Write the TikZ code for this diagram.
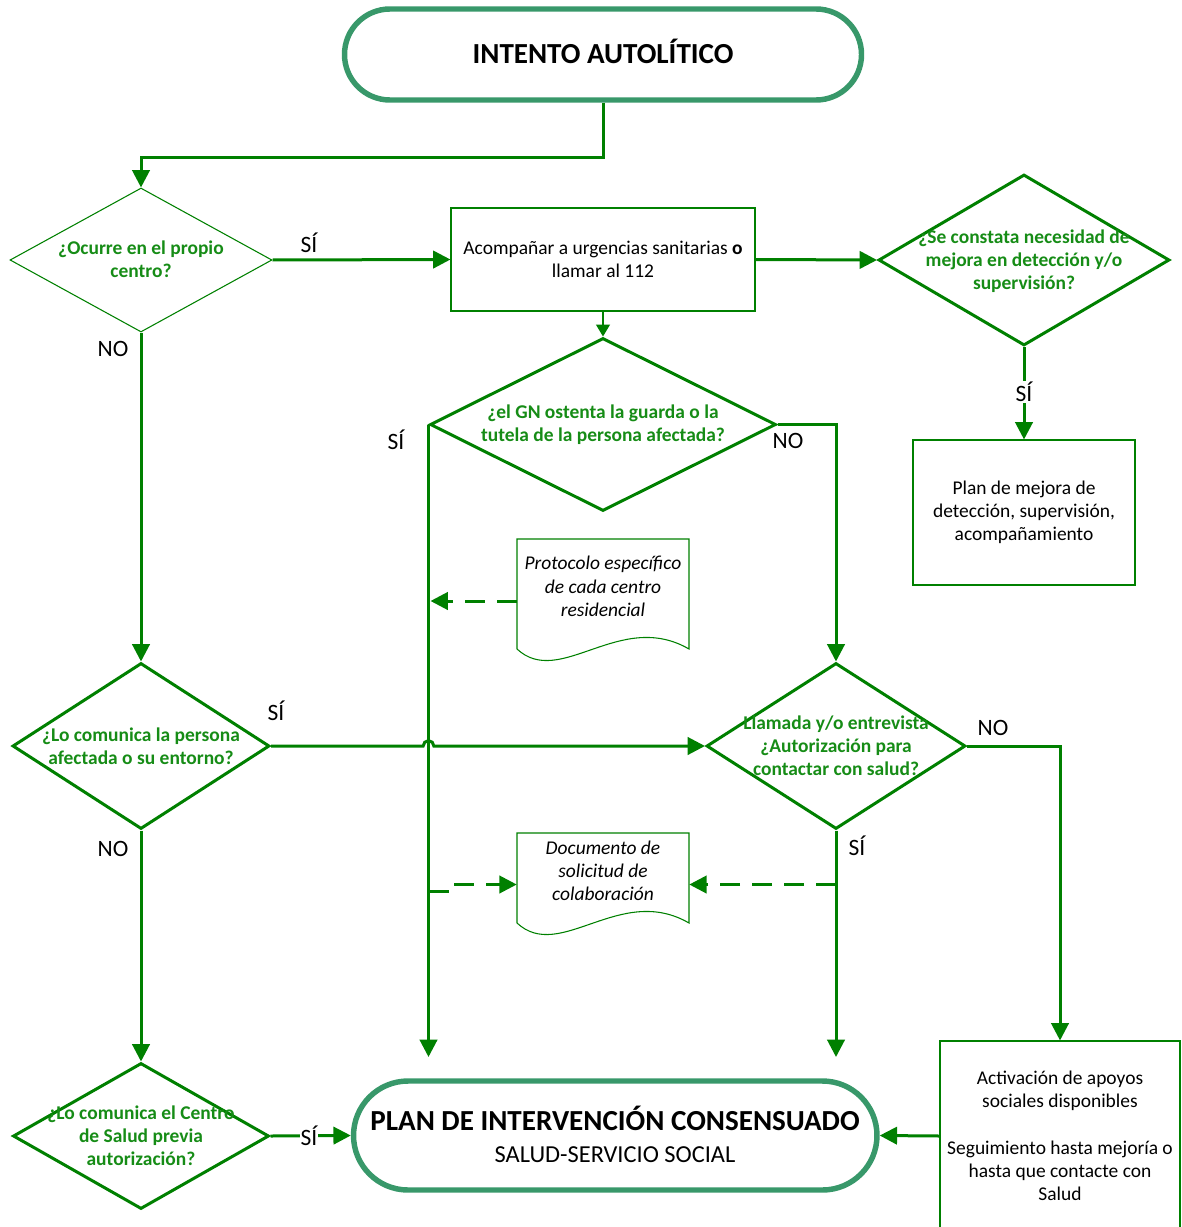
\documentclass[tikz,border=0pt]{standalone}
\usepackage{fontspec}
\setmainfont{Carlito}
\usetikzlibrary{shapes.geometric,arrows.meta}
\definecolor{lg}{RGB}{0,128,0}
\definecolor{tg}{RGB}{22,140,22}
\definecolor{term}{RGB}{56,152,106}
\newcommand{\bodyfont}{\fontsize{14.6}{17.4}\selectfont}
\newcommand{\lblfont}{\fontsize{17.6}{20}\selectfont}
\tikzset{
 conn/.style={draw=lg, line width=2.25pt, -{Triangle[length=13pt,width=13pt]}},
 dashconn/.style={conn, dash pattern=on 15pt off 9pt},
 decision/.style={diamond, draw=lg, line width=2.25pt, inner sep=0pt, aspect=1},
 thindecision/.style={decision, line width=0.8pt},
 qtext/.style={text=tg, font=\bodyfont\bfseries, align=center, inner sep=0pt},
 procbox/.style={rectangle, draw=lg, line width=0.8pt, align=center, font=\bodyfont, inner sep=0pt},
 terminal/.style={rectangle, draw=term, line width=4.1pt, align=center, inner sep=0pt},
 lbl/.style={font=\lblfont, inner sep=1pt},
 docbox/.style={rectangle, inner sep=0pt, minimum width=129pt},
 docline/.style={draw=lg, line width=0.8pt},
 doctext/.style={font=\bodyfont\itshape, align=center, inner sep=0pt},
}
\begin{document}
\begin{tikzpicture}[x=0.75pt,y=-0.75pt]
\useasboundingbox (0,0) rectangle (1181,1227);

% terminals
\node[terminal, minimum width=387.75pt, minimum height=68.25pt, rounded corners=34.1pt,
  text height=14pt, text depth=0pt,
  font=\fontsize{21.8}{24}\selectfont\bfseries] (start) at (603,54.5) {INTENTO AUTOLÍTICO};
\node[terminal, minimum width=392.6pt, minimum height=81.75pt, rounded corners=40.9pt] (plan) at (615.25,1135.5) {};
\node[align=center, inner sep=0pt, font=\fontsize{21.8}{24}\selectfont] (plant) at (615,1134)
  {\textbf{PLAN DE INTERVENCIÓN CONSENSUADO}\\{\fontsize{18.3}{22}\selectfont SALUD-SERVICIO SOCIAL}};

% decisions
\node[thindecision, minimum width=196.5pt, minimum height=108pt] (d1) at (141,260) {};
\node[qtext] (d1t) at (141,259) {¿Ocurre en el propio\\centro?};
\node[decision, minimum width=259.5pt, minimum height=129.75pt] (d2) at (603,424.5) {};
\node[qtext] (d2t) at (603,424.5) {¿el GN ostenta la guarda o la\\tutela de la persona afectada?};
\node[decision, minimum width=218.25pt, minimum height=128.25pt] (d3) at (1024,260) {};
\node[qtext] (d3t) at (1024,261) {¿Se constata necesidad de\\mejora en detección y/o\\supervisión?};
\node[decision, minimum width=192.75pt, minimum height=124.5pt] (d4) at (141,746) {};
\node[qtext] (d4t) at (141,746) {¿Lo comunica la persona\\afectada o su entorno?};
\node[decision, minimum width=194.25pt, minimum height=124.5pt] (d5) at (836,746) {};
\node[qtext] (d5t) at (836,745.5) {Llamada y/o entrevista\\¿Autorización para\\contactar con salud?};
\node[decision, minimum width=192pt, minimum height=109.5pt] (d6) at (141,1136) {};
\node[qtext] (d6t) at (141,1135.5) {¿Lo comunica el Centro\\de Salud previa\\autorización?};

% process boxes
\node[procbox, minimum width=228pt, minimum height=77.25pt] (b1) at (603,259.5)
  {Acompañar a urgencias sanitarias \textbf{o}\\llamar al 112};
\node[procbox, minimum width=166.5pt, minimum height=108.75pt] (b2) at (1024,512.5)
  {Plan de mejora de\\detección, supervisión,\\acompañamiento};
\node[procbox, minimum width=180pt, minimum height=142.5pt] (b3) at (1060,1136)
  {Activación de apoyos\\sociales disponibles\\[17.4pt]Seguimiento hasta mejoría o\\hasta que contacte con\\Salud};

% documents
\node[docbox, minimum height=93pt] (doc1) at (603,601) {};
\draw[docline] (517,539) -- (689,539) -- (689,649) .. controls (620,609) and (560,689) .. (517,649) -- cycle;
\node[doctext] (doc1t) at (603,586.5) {Protocolo específico\\de cada centro\\residencial};
\node[docbox, minimum height=77.25pt] (doc2) at (603,884.5) {};
\draw[docline] (517,833) -- (689,833) -- (689,923) .. controls (620,883) and (560,963) .. (517,923) -- cycle;
\node[doctext] (doc2t) at (603,870.5) {Documento de\\solicitud de\\colaboración};

% free ends
\coordinate (e1) at (431,1057);
\coordinate (e2) at (836,1057);
\coordinate (e3) at (455,891);

% connectors
\draw[conn] (start.south) -- (603,158) -| (d1.north);
\draw[conn] (d1.east) -- (b1.west);
\draw[conn] (b1.east) -- (d3.west);
\draw[conn] (d3.south) -- (b2.north);
\draw[draw=lg, line width=1.1pt, -{Triangle[length=9pt,width=10.5pt]}] (b1.south) -- (d2.north);
\draw[conn] (d2.west) -- (d2.west |- e1);
\draw[conn] (d2.east) -| (d5.north);
\draw[dashconn] (doc1.west) -- ([xshift=1.5pt]d2.west |- doc1.west);
\draw[conn] (d1.south) -- (d4.north);
\draw[conn] (d4.east) -- ([xshift=-4pt]d2.west |- d4.east) arc[start angle=180,end angle=0,radius=4pt] -- (d5.west);
\draw[conn] (d5.east) -| (b3.north);
\draw[conn] (d5.south) -- (e2);
\draw[dashconn] (d5.south |- doc2.east) -- (doc2.east);
\draw[dashconn] (d2.west |- e3) -- (e3) |- (doc2.west);
\draw[conn] (d4.south) -- (d6.north);
\draw[conn] (d6.east) -- (plan.west);
\draw[conn] (b3.west) -- (plan.east);

% labels
\node[lbl] (l1) at (309,243) {SÍ};
\node[lbl, fill=white] (l2) at (1024,392) {SÍ};
\node[lbl] (l3) at (396,440) {SÍ};
\node[lbl] (l4) at (788,441) {NO};
\node[lbl] (l5) at (113,349) {NO};
\node[lbl] (l6) at (276,711) {SÍ};
\node[lbl] (l7) at (993,728) {NO};
\node[lbl] (l8) at (857,846) {SÍ};
\node[lbl] (l9) at (113,849) {NO};
\node[lbl, fill=white, inner sep=0.5pt] (l10) at (309,1136) {SÍ};
\end{tikzpicture}
\end{document}
